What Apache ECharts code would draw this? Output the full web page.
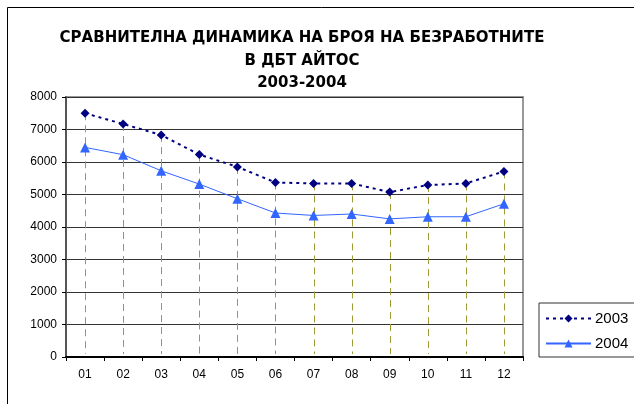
<!DOCTYPE html>
<html>
<head>
<meta charset="utf-8">
<script src="https://cdn.jsdelivr.net/npm/echarts@6/dist/echarts.min.js"></script>
<style>
html,body{margin:0;padding:0;background:#fff;}
#chart{width:634px;height:404px;}
</style>
</head>
<body>
<div id="chart"></div>
<script>
const titleLines = ['СРАВНИТЕЛНА ДИНАМИКА НА БРОЯ НА БЕЗРАБОТНИТЕ', 'В ДБТ АЙТОС', '2003-2004'];
const months = ['01','02','03','04','05','06','07','08','09','10','11','12'];
const series2003 = [7500, 7170, 6830, 6230, 5850, 5370, 5340, 5340, 5075, 5290, 5340, 5710];
const series2004 = [6450, 6225, 5730, 5320, 4870, 4430, 4355, 4400, 4250, 4315, 4315, 4715];
const seriesNames = ['2003', '2004'];
const yTicks = [0, 1000, 2000, 3000, 4000, 5000, 6000, 7000, 8000];

const dropData = months.map((m, i) => [i, Math.max(series2003[i], series2004[i])]);

const chart = echarts.init(document.getElementById('chart'), null, {renderer: 'canvas'});
chart.setOption({
  animation: false,
  backgroundColor: '#fff',
  graphic: [
    {type: 'rect', shape: {x: 7.5, y: 7.5, width: 700, height: 500}, style: {fill: 'none', stroke: '#000', lineWidth: 1}, z: 0},
    {type: 'text', x: 302, y: 27, style: {text: titleLines.join('\n'), font: 'bold 15px "DejaVu Sans"', fill: '#000', textAlign: 'center', lineHeight: 22.5}, z: 10}
  ],
  grid: {left: 66, right: 111, top: 97, bottom: 47, show: true, borderColor: '#999', borderWidth: 2, backgroundColor: 'transparent'},
  legend: {
    orient: 'vertical', left: 539, top: 303,
    padding: [8, 40, 6, 6], itemGap: 10,
    itemWidth: 45, itemHeight: 10,
    backgroundColor: '#fff', borderColor: '#333', borderWidth: 1,
    textStyle: {fontFamily: '"Liberation Sans", Arial', fontSize: 15, color: '#000', padding: [0,0,0,-1]},
    data: seriesNames
  },
  xAxis: {
    type: 'category', data: months, boundaryGap: true,
    axisLine: {lineStyle: {color: '#000', width: 2}},
    axisTick: {show: true, length: 4, lineStyle: {color: '#000'}},
    axisLabel: {fontFamily: '"Liberation Sans", Arial', fontSize: 12, color: '#000', margin: 12},
    splitLine: {show: false}
  },
  yAxis: {
    type: 'value', min: yTicks[0], max: yTicks[yTicks.length - 1], interval: 1000,
    axisLine: {show: true, lineStyle: {color: '#555', width: 2}},
    axisTick: {show: true, length: 4, lineStyle: {color: '#000'}},
    axisLabel: {fontFamily: '"Liberation Sans", Arial', fontSize: 12, color: '#000', margin: 9, formatter: function (v) { return String(v); }},
    splitLine: {show: true, lineStyle: {color: '#333', width: 1}}
  },
  series: [
    {
      type: 'custom', name: 'drop', silent: true, z: 1,
      data: dropData,
      renderItem: function (params, api) {
        const p1 = api.coord([api.value(0), api.value(1)]);
        const p2 = api.coord([api.value(0), 0]);
        return {type: 'line', shape: {x1: Math.round(p1[0]) + 0.5, y1: p1[1], x2: Math.round(p2[0]) + 0.5, y2: p2[1] - 3},
          style: {stroke: '#9c9c38', lineWidth: 1, lineDash: [7, 5]}};
      }
    },
    {
      type: 'line', name: seriesNames[0], data: series2003, z: 3,
      symbol: 'diamond', symbolSize: 9,
      lineStyle: {color: '#000080', width: 2, type: [3, 4]},
      itemStyle: {color: '#000080'}
    },
    {
      type: 'line', name: seriesNames[1], data: series2004, z: 3,
      symbol: 'triangle', symbolSize: 10,
      lineStyle: {color: '#3366ff', width: 1, type: 'solid'},
      itemStyle: {color: '#3366ff'}
    }
  ]
});
</script>
</body>
</html>
